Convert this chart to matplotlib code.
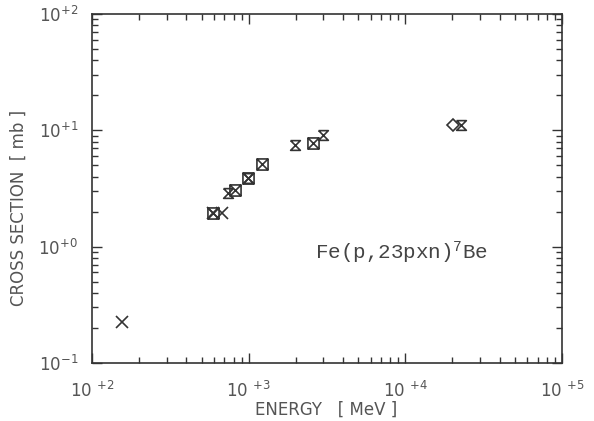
import numpy as np
import matplotlib
matplotlib.use("Agg")
import matplotlib.pyplot as plt
from matplotlib.path import Path
from matplotlib.ticker import LogLocator, NullFormatter, FixedLocator

# data (energy in MeV, cross section in mb)
e_cross = [155, 592, 676]
s_cross = [0.225, 1.95, 1.94]

e_box = [592, 818, 991, 1216, 2572]
s_box = [1.95, 3.07, 3.90, 5.14, 7.79]

e_hour = [738, 991, 1972, 2980, 22600]
s_hour = [2.90, 3.90, 7.49, 9.13, 11.1]

e_diam = [20100]
s_diam = [11.1]

xtick_vals = [1e2, 1e3, 1e4, 1e5]
xtick_labels = [r'$\mathregular{10\ ^{+2}}$', r'$\mathregular{10\ ^{+3}}$',
                r'$\mathregular{10\ ^{+4}}$', r'$\mathregular{10\ ^{+5}}$']
ytick_vals = [1e-1, 1e0, 1e1, 1e2]
ytick_labels = [r'$\mathregular{10^{-1}}$', r'$\mathregular{10^{+0}}$',
                r'$\mathregular{10^{+1}}$', r'$\mathregular{10^{+2}}$']

ink = '#333333'
txt = '#555555'

# hourglass marker: X closed by top and bottom bars
hour = Path([(-1, 1), (1, 1), (-1, -1), (1, -1), (-1, 1)],
            [Path.MOVETO, Path.LINETO, Path.LINETO, Path.LINETO, Path.LINETO])
# square with an X inside
boxx = Path([(-1, -1), (1, -1), (1, 1), (-1, 1), (-1, -1), (1, 1), (-1, 1), (1, -1)],
            [Path.MOVETO, Path.LINETO, Path.LINETO, Path.LINETO, Path.LINETO,
             Path.LINETO, Path.MOVETO, Path.LINETO])

fig = plt.figure(figsize=(5.94, 4.21), dpi=100)
ax = fig.add_axes([0.155, 0.138, 0.791, 0.829])

ax.set_xscale('log')
ax.set_yscale('log')
ax.set_xlim(1e2, 1e5)
ax.set_ylim(1e-1, 1e2)

ax.plot(e_cross, s_cross, linestyle='none', marker='x', ms=8, mew=1.2, color=ink)
ax.plot(e_box, s_box, linestyle='none', marker=boxx, ms=8, mew=1.2,
        mfc='none', mec=ink)
ax.plot(e_hour, s_hour, linestyle='none', marker=hour, ms=7, mew=1.2,
        mfc='none', mec=ink)
ax.plot(e_diam, s_diam, linestyle='none', marker='D', ms=6, mew=1.2,
        mfc='none', mec=ink)

for sp in ax.spines.values():
    sp.set_color(ink)
    sp.set_linewidth(1.2)

ax.xaxis.set_major_locator(FixedLocator(xtick_vals))
ax.set_xticklabels(xtick_labels)
ax.yaxis.set_major_locator(FixedLocator(ytick_vals))
ax.set_yticklabels(ytick_labels)
for a in (ax.xaxis, ax.yaxis):
    a.set_minor_locator(LogLocator(base=10, subs=np.arange(2, 10), numticks=20))
    a.set_minor_formatter(NullFormatter())

ax.tick_params(which='both', direction='in', top=True, right=True, color=ink, width=1.0)
ax.tick_params(which='major', length=7, labelsize=12, labelcolor=txt)
ax.tick_params(which='minor', length=4)
ax.tick_params(axis='x', which='major', pad=13)
ax.tick_params(axis='y', which='major', pad=10)

fig.text(326 / 594, 1 - 410 / 421, 'ENERGY   [ MeV ]', fontsize=12, color=txt,
         ha='center', va='center')
fig.text(19 / 594, 1 - 208 / 421, 'CROSS SECTION  [ mb ]', fontsize=12, color=txt,
         ha='center', va='center', rotation=90)

ax.text(2650, 0.78, r'Fe(p,23pxn)$\mathregular{^{7}}$Be', family='Liberation Mono',
        fontsize=15, color='#444444', ha='left', va='baseline')

fig.savefig('out.png', dpi=100)
